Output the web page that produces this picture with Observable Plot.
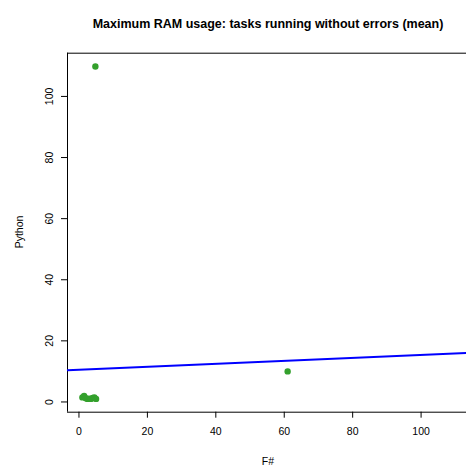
<!DOCTYPE html>
<html><head><meta charset="utf-8">
<script src="https://cdn.jsdelivr.net/npm/d3@7"></script>
<script src="https://cdn.jsdelivr.net/npm/@observablehq/plot@0.6"></script>
<style>
body{margin:0;background:#fff;font-family:"Liberation Sans",Arial,Helvetica,sans-serif;}
#wrap{position:relative;width:466px;height:466px;overflow:hidden;}
#title{position:absolute;left:67px;width:402px;top:17px;text-align:center;font-weight:bold;font-size:12.5px;line-height:15px;color:#000;}
#xlab{position:absolute;left:218px;width:100px;top:455px;text-align:center;font-size:10.5px;line-height:12px;color:#000;}
#ylab{position:absolute;left:-31px;width:100px;top:226px;text-align:center;font-size:10.5px;line-height:12px;color:#000;transform:rotate(-90deg);transform-origin:50% 50%;}
#wrap svg{position:absolute;left:0;top:0;}
</style></head><body>
<div id="wrap"><div id="title">Maximum RAM usage: tasks running without errors (mean)</div><div id="xlab"></div><div id="ylab"></div></div>
<script>
// data
const fsharp = [1.0, 1.5, 2.0, 2.5, 3.0, 3.5, 4.0, 4.5, 5.0, 4.8, 61.0];
const python = [1.5, 2.0, 1.2, 1.0, 1.1, 1.0, 1.3, 1.5, 1.0, 109.8, 10.0];
const fitIntercept = 10.57;
const fitSlope = 0.048;
const xTicks = [0, 20, 40, 60, 80, 100];
const yTicks = [0, 20, 40, 60, 80, 100];
const xLabel = "F#";
const yLabel = "Python";

document.getElementById("xlab").textContent = xLabel;
document.getElementById("ylab").textContent = yLabel;

const points = fsharp.map((x, i) => ({x, y: python[i]}));
const all = fsharp.concat(python);
const lo = d3.min(all), hi = d3.max(all), pad = (hi - lo) * 0.04;
const dom = [lo - pad, hi + pad];
const fitLine = dom.map(x => ({x, y: fitIntercept + fitSlope * x}));

const chart = Plot.plot({
  width: 466,
  height: 466,
  marginLeft: 67,
  marginRight: -3,
  marginTop: 52.7,
  marginBottom: 54.3,
  style: {fontFamily: '"Liberation Sans", Arial, Helvetica, sans-serif', fontSize: "10.5px", color: "#000", background: "transparent"},
  x: {domain: dom, label: null},
  y: {domain: dom, label: null},
  marks: [
    Plot.ruleY([dom[0], dom[1]], {stroke: "#000", strokeWidth: 1}),
    Plot.ruleX([dom[0]], {stroke: "#000", strokeWidth: 1}),
    Plot.axisX({ticks: xTicks, tickSize: 6, tickPadding: 9, label: null, stroke: "#000"}),
    Plot.axisY({ticks: yTicks, tickSize: 6, tickPadding: 9, tickRotate: -90, label: null, stroke: "#000"}),
    Plot.line(fitLine, {x: "x", y: "y", stroke: "#0000ff", strokeWidth: 2, clip: true}),
    Plot.dot(points, {x: "x", y: "y", r: 3.2, fill: "#33a02c", stroke: "none"})
  ]
});
document.getElementById("wrap").prepend(chart);
</script>
</body></html>
